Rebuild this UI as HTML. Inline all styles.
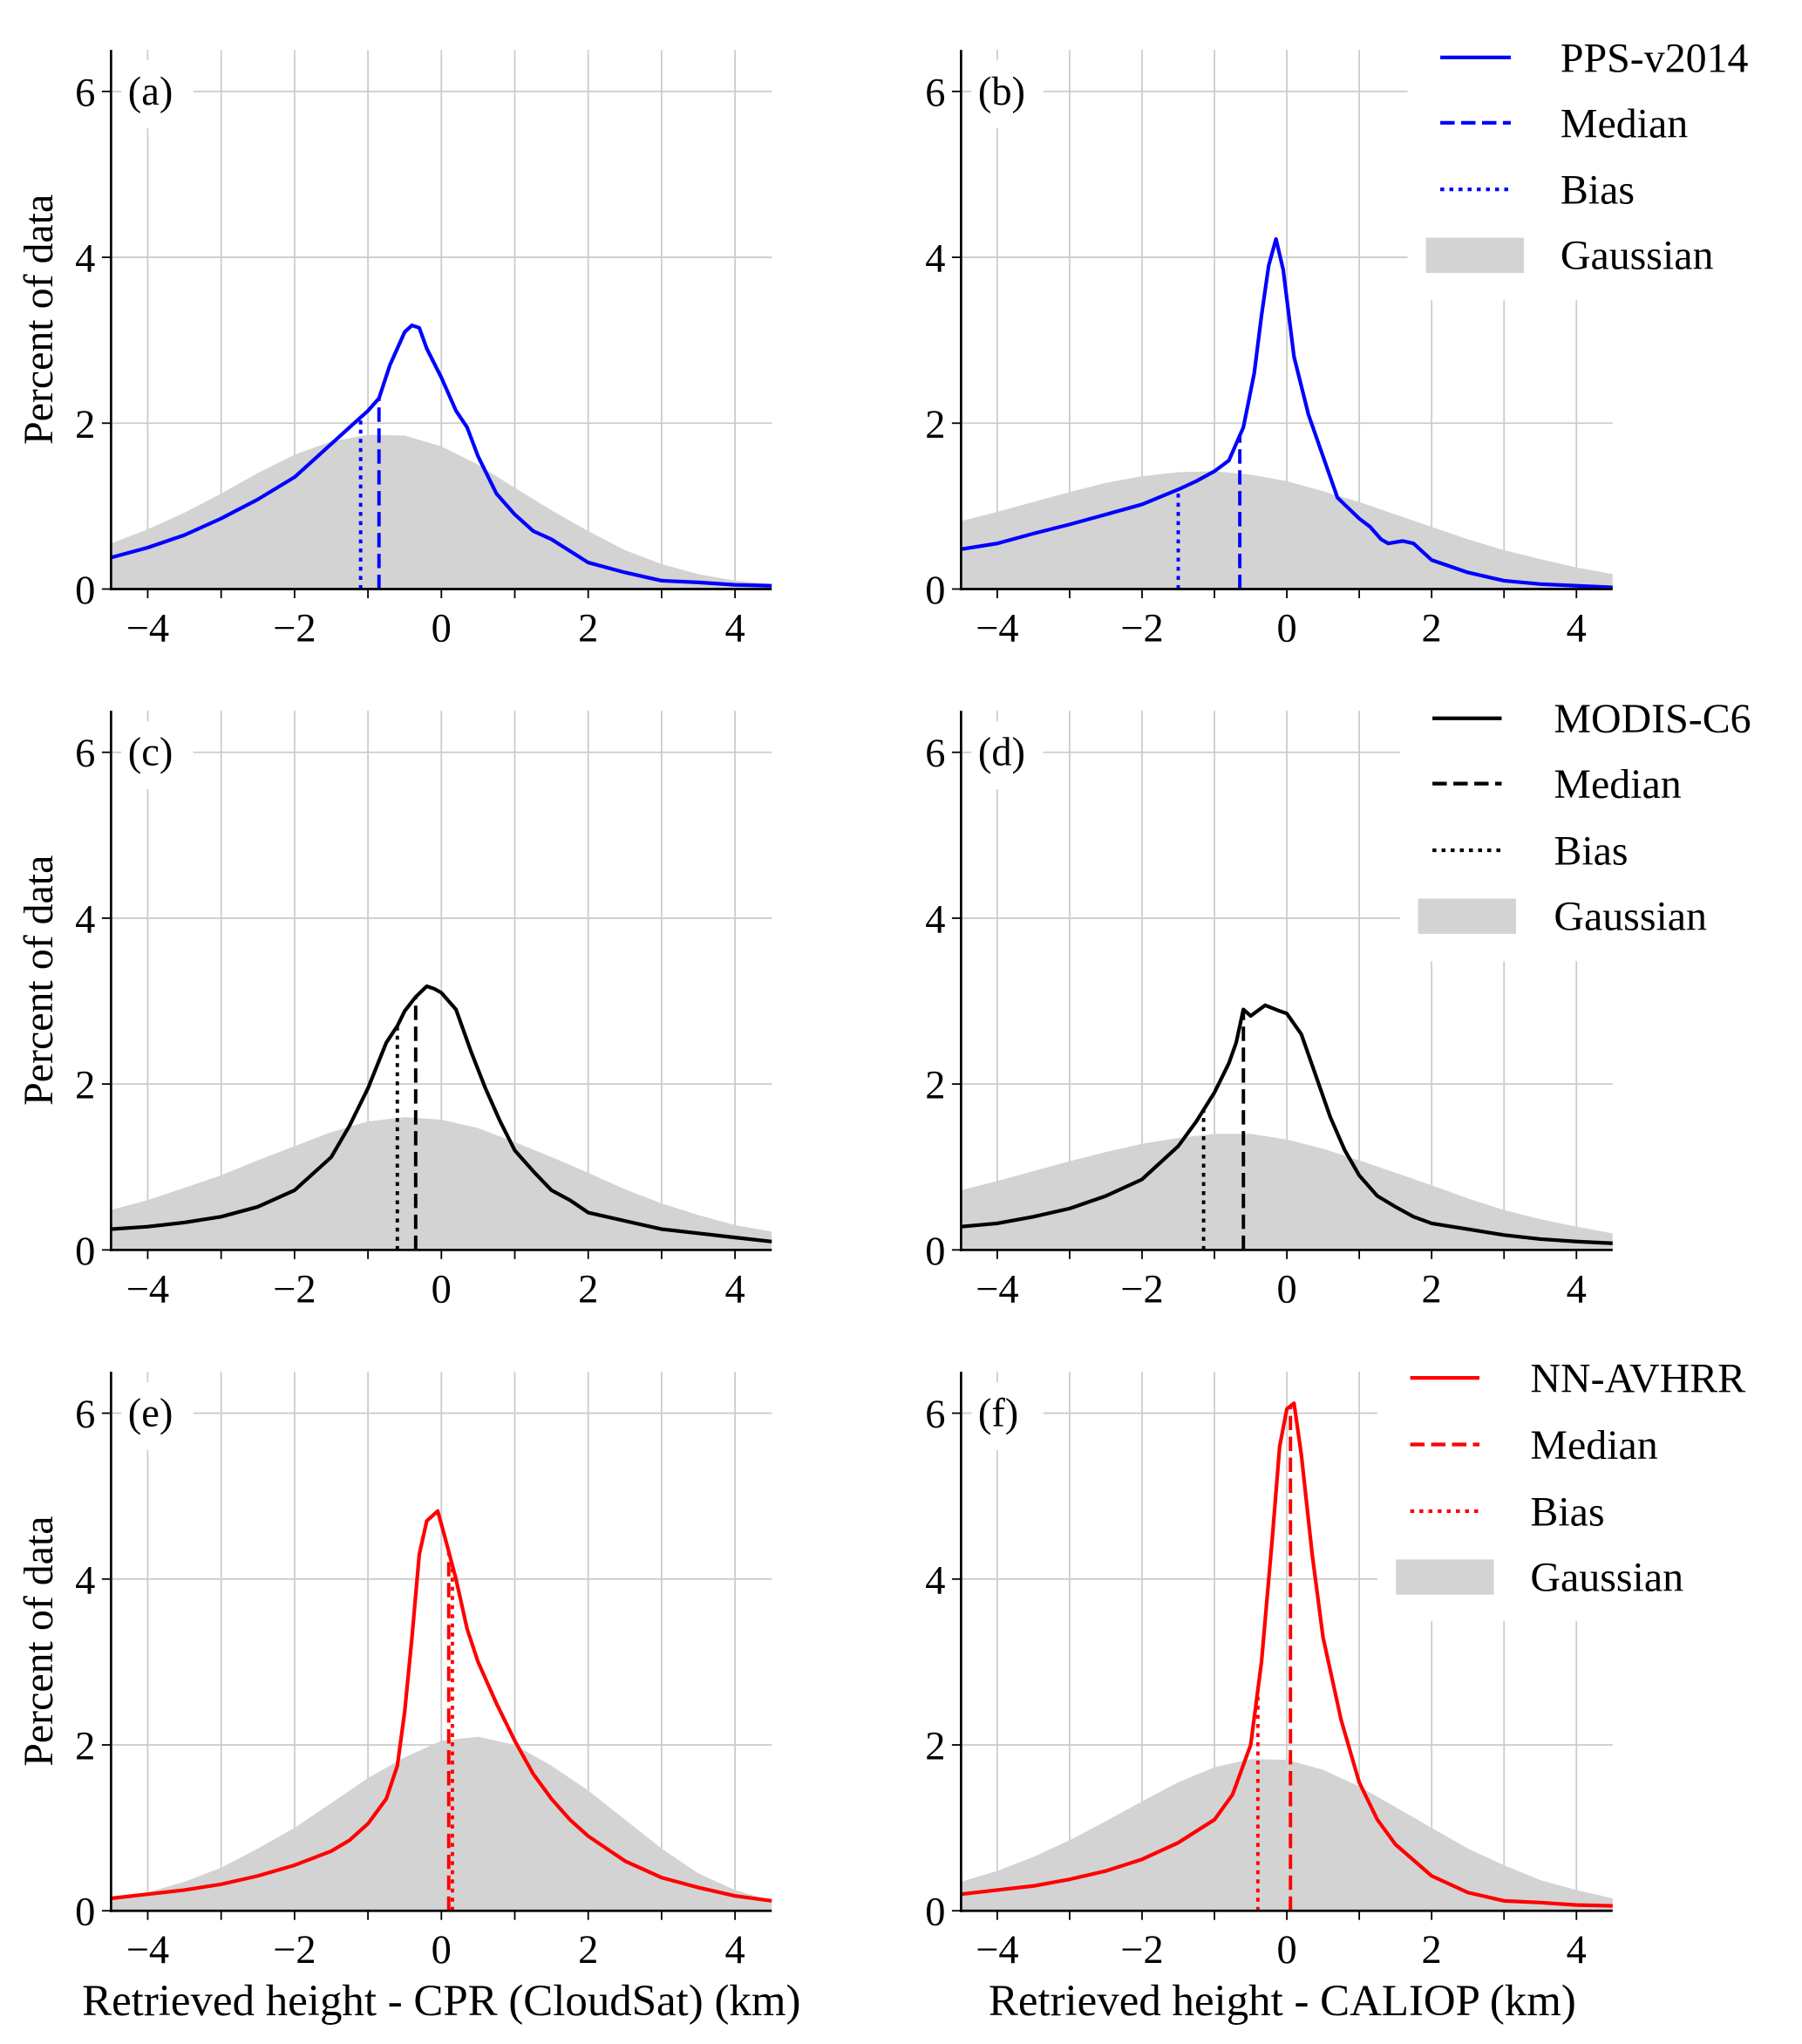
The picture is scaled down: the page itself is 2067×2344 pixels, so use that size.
<!DOCTYPE html>
<html><head><meta charset="utf-8"><style>
html,body{margin:0;padding:0;background:#fff;}
svg{display:block;}
svg text{font-family:"Liberation Serif","DejaVu Serif",serif;}
</style></head><body>
<svg id="fig" width="2067" height="2344" viewBox="0 0 1380 1565" xmlns="http://www.w3.org/2000/svg" font-family="Liberation Serif, serif"></svg>
<script>
// ---- data ----
const gaussX = [-4.5,-4,-3.5,-3,-2.5,-2,-1.5,-1,-0.5,0,0.5,1,1.5,2,2.5,3,3.5,4,4.5];
const gaussA = [.55,.72,.92,1.15,1.4,1.62,1.78,1.86,1.85,1.72,1.5,1.22,.95,.7,.47,.3,.18,.1,.06];
const gaussB = [.82,.93,1.05,1.17,1.28,1.36,1.41,1.42,1.38,1.3,1.18,1.05,.9,.75,.6,.47,.36,.26,.18];
const gaussC = [.48,.6,.75,.9,1.08,1.25,1.42,1.55,1.6,1.57,1.47,1.3,1.12,.93,.73,.56,.42,.3,.22];
const gaussD = [.72,.83,.95,1.07,1.18,1.28,1.35,1.4,1.4,1.33,1.22,1.08,.93,.78,.62,.48,.37,.28,.2];
const gaussE = [.15,.22,.35,.52,.75,1.0,1.3,1.6,1.85,2.05,2.1,2.0,1.75,1.45,1.1,.75,.45,.25,.12];
const gaussF = [.35,.48,.65,.85,1.08,1.32,1.55,1.73,1.83,1.82,1.7,1.5,1.25,1.0,.75,.55,.37,.25,.15];

const xA = [-4.5,-4,-3.5,-3,-2.5,-2,-1.5,-1.25,-1,-0.85,-0.7,-0.5,-0.4,-0.3,-0.2,0,0.2,0.35,0.5,0.75,1,1.25,1.5,2,2.5,3,3.5,4,4.5];
const yA = [.38,.5,.65,.85,1.08,1.35,1.75,1.95,2.15,2.3,2.7,3.1,3.18,3.15,2.9,2.55,2.15,1.95,1.6,1.15,.9,.7,.6,.32,.2,.1,.08,.05,.04];
const xB = [-4.5,-4,-3.5,-3,-2.5,-2,-1.5,-1.25,-1,-0.8,-0.6,-0.45,-0.35,-0.25,-0.15,-0.05,0.1,0.3,0.5,0.7,1,1.15,1.3,1.4,1.6,1.75,2,2.5,3,3.5,4,4.5];
const yB = [.48,.55,.67,.78,.9,1.02,1.2,1.3,1.42,1.55,1.95,2.6,3.3,3.9,4.22,3.85,2.8,2.1,1.6,1.1,.85,.75,.6,.55,.58,.55,.35,.2,.1,.06,.04,.02];
const xC = [-4.5,-4,-3.5,-3,-2.5,-2,-1.5,-1.25,-1,-0.75,-0.6,-0.5,-0.35,-0.2,-0.1,0,0.2,0.4,0.6,0.8,1,1.25,1.5,1.75,2,2.5,3,3.5,4,4.5];
const yC = [.25,.28,.33,.4,.52,.72,1.12,1.5,1.95,2.5,2.7,2.88,3.05,3.18,3.15,3.1,2.9,2.4,1.95,1.55,1.2,.95,.72,.6,.45,.35,.25,.2,.15,.1];
const xD = [-4.5,-4,-3.5,-3,-2.5,-2,-1.5,-1.25,-1,-0.8,-0.7,-0.6,-0.5,-0.3,-0.1,0,0.2,0.4,0.6,0.8,1,1.25,1.5,1.75,2,2.5,3,3.5,4,4.5];
const yD = [.28,.32,.4,.5,.65,.85,1.25,1.55,1.9,2.25,2.5,2.9,2.82,2.95,2.88,2.85,2.6,2.1,1.6,1.2,.9,.65,.52,.4,.32,.25,.18,.13,.1,.08];
const xE = [-4.5,-4,-3.5,-3,-2.5,-2,-1.5,-1.25,-1,-0.75,-0.6,-0.5,-0.4,-0.3,-0.2,-0.05,0.05,0.2,0.35,0.5,0.75,1,1.25,1.5,1.75,2,2.5,3,3.5,4,4.5];
const yE = [.15,.2,.25,.32,.42,.55,.72,.85,1.05,1.35,1.75,2.4,3.3,4.3,4.7,4.82,4.5,4.0,3.4,3.0,2.5,2.05,1.65,1.35,1.1,.9,.6,.4,.28,.18,.12];
const xF = [-4.5,-4,-3.5,-3,-2.5,-2,-1.5,-1,-0.75,-0.5,-0.35,-0.2,-0.1,0,0.1,0.2,0.35,0.5,0.75,1,1.25,1.5,2,2.5,3,3.5,4,4.5];
const yF = [.2,.25,.3,.38,.48,.62,.82,1.1,1.4,2.0,3.0,4.5,5.6,6.05,6.12,5.5,4.3,3.3,2.3,1.55,1.1,.8,.42,.22,.12,.1,.07,.06];

const medians = [-0.85,-0.65,-0.35,-0.6,0.1,0.05];
const biases = [-1.1,-1.5,-0.6,-1.15,0.15,-0.4];
const panelLabels = ["(a)","(b)","(c)","(d)","(e)","(f)"];
const xTickLabels = ["\u22124","\u22122","0","2","4"];
const xTickVals = [-4,-2,0,2,4];
const yTickVals = [0,2,4,6];
const legendNames = ["PPS-v2014","MODIS-C6","NN-AVHRR"];
const colors = ["#0000ff","#000000","#ff0000"];

const NS="http://www.w3.org/2000/svg";
const svg=document.getElementById('fig');
const FONT='"Liberation Serif", "DejaVu Serif", serif';
function mk(tag,attrs,parent){const e=document.createElementNS(NS,tag);for(const k in attrs)e.setAttribute(k,attrs[k]);if(tag==='text'){e.setAttribute('font-family',FONT);e.style.fontFamily=FONT;}(parent||svg).appendChild(e);return e;}

const cols=[{x0:85,x1:591},{x0:736,x1:1235}];
const rows=[451,957,1463];
const yUnit=63.5;
const panels=[
 {g:gaussA,x:xA,y:yA},{g:gaussB,x:xB,y:yB},
 {g:gaussC,x:xC,y:yC},{g:gaussD,x:xD,y:yD},
 {g:gaussE,x:xE,y:yE},{g:gaussF,x:xF,y:yF}];
const legBoxes=[{x:1078,y:18,h:212,lx0:1103,lx1:1157,tx:1195,px:1092,pw:75,rows:[44,94,145,195]},
 {x:1072,y:524,h:212,lx0:1097,lx1:1150,tx:1190,px:1086,pw:75,rows:[550,600,651,701]},
 {x:1055,y:1030,h:211,lx0:1080,lx1:1133,tx:1172,px:1069,pw:75,rows:[1055,1106,1157,1207]}];

function interp(xs,ys,v){for(let i=0;i<xs.length-1;i++){if(v>=xs[i]&&v<=xs[i+1]){const t=(v-xs[i])/(xs[i+1]-xs[i]);return ys[i]+t*(ys[i+1]-ys[i]);}}return 0;}

panels.forEach((p,i)=>{
  const r=Math.floor(i/2), c=i%2, col=cols[c], y0=rows[r];
  const color=colors[r];
  const sx=v=>col.x0+(v+4.5)/9*(col.x1-col.x0);
  const sy=v=>y0-v*yUnit;
  const g=mk('g',{});
  
  
  for(let t=-4;t<=4;t++){const l=mk('line',{x1:sx(t),x2:sx(t),y1:sy(6.5),y2:y0,stroke:'#cccccc','stroke-width':1.2},g);
    }
  yTickVals.forEach(t=>{if(t===0)return;const l=mk('line',{x1:col.x0,x2:col.x1,y1:sy(t),y2:sy(t),stroke:'#cccccc','stroke-width':1.2},g);
    });
  let d='M'+sx(gaussX[0])+','+y0;
  gaussX.forEach((xv,k)=>{d+=' L'+sx(xv).toFixed(1)+','+sy(p.g[k]).toFixed(1);});
  d+=' L'+sx(gaussX[gaussX.length-1])+','+y0+' Z';
  const gf=mk('path',{d:d,fill:'#d3d3d3',stroke:'none'},g);
  
  const mv=medians[i], bv=biases[i];
  const ml=mk('line',{x1:sx(mv),x2:sx(mv),y1:y0,y2:sy(interp(p.x,p.y,mv)),stroke:color,'stroke-width':2.6,'stroke-dasharray':'11,5'},g);
  
  const bl=mk('line',{x1:sx(bv),x2:sx(bv),y1:y0,y2:sy(interp(p.x,p.y,bv)),stroke:color,'stroke-width':2.6,'stroke-dasharray':'3,4'},g);
  
  const pts=p.x.map((xv,k)=>sx(xv).toFixed(1)+','+sy(p.y[k]).toFixed(1)).join(' ');
  const cl=mk('polyline',{points:pts,fill:'none',stroke:color,'stroke-width':2.8,'stroke-linejoin':'round'},g);
  
  const ax=mk('line',{x1:col.x0,x2:col.x0,y1:sy(6.5),y2:y0+1,stroke:'#000','stroke-width':1.8},g);
  
  const bx=mk('line',{x1:col.x0-1,x2:col.x1,y1:y0,y2:y0,stroke:'#000','stroke-width':1.8},g);
  
  for(let t=-4;t<=4;t++){const l=mk('line',{x1:sx(t),x2:sx(t),y1:y0,y2:y0+7,stroke:'#000','stroke-width':1.2},g);
    }
  xTickVals.forEach((t,k)=>{const tx=mk('text',{x:sx(t),y:y0+40,'font-size':31,'text-anchor':'middle'},g);tx.textContent=xTickLabels[k];
    });
  yTickVals.forEach(t=>{const l=mk('line',{x1:col.x0-7,x2:col.x0,y1:sy(t),y2:sy(t),stroke:'#000','stroke-width':1.2},g);
    
    const tx=mk('text',{x:col.x0-12,y:sy(t)+11,'font-size':31,'text-anchor':'end'},g);tx.textContent=String(t);
    });
  mk('rect',{x:col.x0+8,y:sy(6.5)+8,width:55,height:52,fill:'#fff'},g);
  const pl=mk('text',{x:col.x0+13,y:sy(6)+10,'font-size':31},g);pl.textContent=panelLabels[i];
  
  if(c===0){
    const yt=mk('text',{x:0,y:0,'font-size':32,'text-anchor':'middle',transform:'translate(40,'+((sy(6.5)+y0)/2)+') rotate(-90)'},g);
    yt.textContent='Percent of data';
    
  } else {
    const L=legBoxes[r];
    const lg=mk('g',{},g);
    
    mk('rect',{x:L.x,y:L.y,width:1380-L.x,height:L.h,fill:'#fff'},lg);
    const dashes=['none','11,5','3,4'];
    const names=[legendNames[r],'Median','Bias','Gaussian'];
    for(let k=0;k<4;k++){
      const ly=L.rows[k];
      if(k<3){const ll=mk('line',{x1:L.lx0,x2:L.lx1,y1:ly,y2:ly,stroke:color,'stroke-width':2.8,'stroke-dasharray':dashes[k]},lg);
        }
      else {const pr=mk('rect',{x:L.px,y:ly-13,width:L.pw,height:27,fill:'#d3d3d3'},lg);
        }
      const lt=mk('text',{x:L.tx,y:ly+11,'font-size':32},lg);lt.textContent=names[k];
      
    }
  }
});
const t1=mk('text',{x:338,y:1543,'font-size':34,'text-anchor':'middle'});t1.textContent='Retrieved height - CPR (CloudSat) (km)';

const t2=mk('text',{x:982,y:1543,'font-size':34,'text-anchor':'middle'});t2.textContent='Retrieved height - CALIOP (km)';

</script>
</body></html>
